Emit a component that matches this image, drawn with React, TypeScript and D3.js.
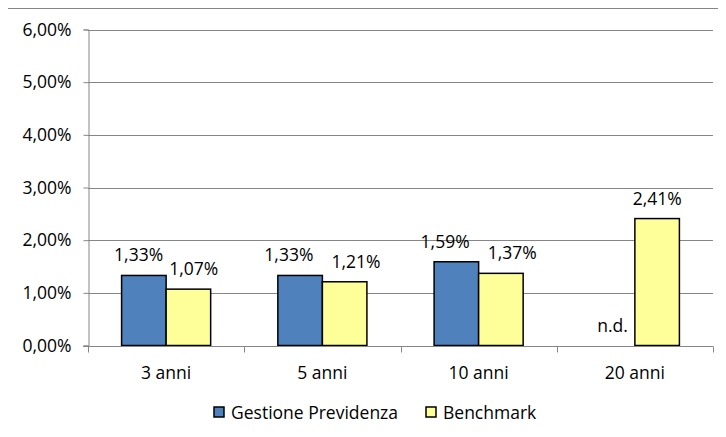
import React, { useEffect, useRef } from 'react'
import * as d3 from 'd3'

const categories = ['3 anni', '5 anni', '10 anni', '20 anni']
const seriesNames = ['Gestione Previdenza', 'Benchmark']
const gestione: (number | null)[] = [1.33, 1.33, 1.59, null]
const benchmark: (number | null)[] = [1.07, 1.21, 1.37, 2.41]
const yTicks = [0, 1, 2, 3, 4, 5, 6]
const colors = ['#4F81BD', '#FFFF99']

const width = 726
const height = 437
const FONT = '"Open Sans", Lato, sans-serif'
const FS = 17.5

const fmt = (v: number) => v.toFixed(2).replace('.', ',') + '%'

const App = () => {
  const svgRef = useRef<SVGSVGElement>(null)

  useEffect(() => {
    const svg = d3.select(svgRef.current)
    svg.selectAll('*').remove()

    // title, cut off at the top like in the source
    const title = svg.append('text').attr('x', 16).attr('y', 7).attr('font-family', FONT).attr('font-size', 17).attr('fill', '#000')
    title.append('tspan').attr('font-weight', 'bold').text('Tavola 5 – Rendimenti medi annui composti ')
    title.append('tspan').attr('font-style', 'italic').text('(valori percentuali)')

    // outer frame
    svg.append('rect').attr('x', 6.5).attr('y', 8.5).attr('width', 730).attr('height', 440)
      .attr('fill', '#fff').attr('stroke', '#868686').attr('stroke-width', 1)

    const left = 88
    const right = 713
    const y = d3.scaleLinear().domain([0, 6]).range([345.5, 29.5])
    const x0 = d3.scaleBand().domain(categories).range([left, right]).paddingInner(0.43).paddingOuter(0.215)
    const x1 = d3.scaleBand().domain(seriesNames).range([0, x0.bandwidth()])

    // gridlines
    svg.append('g').selectAll('line').data(yTicks.slice(1)).enter().append('line')
      .attr('x1', left).attr('x2', right)
      .attr('y1', d => Math.round(y(d)) + 0.5).attr('y2', d => Math.round(y(d)) + 0.5)
      .attr('stroke', '#868686').attr('stroke-width', 1)

    // y axis
    const yAxis = svg.append('g').attr('transform', `translate(${left + 0.5},0)`)
      .call(d3.axisLeft(y).tickValues(yTicks).tickFormat(d => fmt(d as number)).tickSize(5).tickPadding(12))
    yAxis.select('.domain').attr('stroke', '#868686')
    yAxis.selectAll('.tick line').attr('stroke', '#868686')
    yAxis.selectAll('.tick text').attr('font-family', FONT).attr('font-size', FS).attr('fill', '#000')

    // bars
    const rows = categories.map((c, i) => ({ c, vals: [gestione[i], benchmark[i]] }))
    const groups = svg.append('g').selectAll('g').data(rows).enter().append('g')
      .attr('transform', d => `translate(${x0(d.c)},0)`)

    groups.selectAll('rect').data(d => d.vals.map((v, j) => ({ v, j })).filter(e => e.v !== null)).enter().append('rect')
      .attr('x', e => x1(seriesNames[e.j]) as number)
      .attr('y', e => y(e.v as number))
      .attr('width', x1.bandwidth())
      .attr('height', e => y(0) - y(e.v as number))
      .attr('fill', e => colors[e.j])
      .attr('stroke', '#000').attr('stroke-width', 1.5)

    groups.selectAll('text').data(d => d.vals.map((v, j) => ({ v, j }))).enter().append('text')
      .attr('x', e => (x1(seriesNames[e.j]) as number) + x1.bandwidth() / 2)
      .attr('y', e => y(e.v === null ? 0 : e.v) - 14)
      .attr('text-anchor', 'middle')
      .attr('font-family', FONT).attr('font-size', FS).attr('fill', '#000')
      .text(e => (e.v === null ? 'n.d.' : fmt(e.v)))

    // push apart labels that sit at similar heights (like Excel does)
    groups.each(function (d) {
      if (d.vals.some(v => v === null)) return
      const texts = d3.select(this).selectAll<SVGTextElement, any>('text').nodes()
      if (texts.length < 2) return
      const [a, b] = texts
      const wa = a.getComputedTextLength()
      const wb = b.getComputedTextLength()
      const xa = +a.getAttribute('x')!
      const xb = +b.getAttribute('x')!
      const dy = Math.abs(y(d.vals[0] as number) - y(d.vals[1] as number))
      const gap = dy < 13 ? 18 : 6
      const need = xa + wa / 2 + gap - (xb - wb / 2)
      if (need > 0) {
        a.setAttribute('x', String(xa - need / 2))
        b.setAttribute('x', String(xb + need / 2))
      }
    })

    // x axis
    const xAxisG = svg.append('g').attr('transform', `translate(0,${Math.round(y(0)) + 0.5})`)
    xAxisG.append('line').attr('x1', left - 5).attr('x2', right).attr('stroke', '#868686')
    const tickPos = d3.range(categories.length + 1).map(i => left + (i * (right - left)) / categories.length)
    xAxisG.selectAll('line.t').data(tickPos).enter().append('line').attr('class', 't')
      .attr('x1', d => Math.round(d) + 0.5).attr('x2', d => Math.round(d) + 0.5).attr('y1', 0).attr('y2', 6)
      .attr('stroke', '#868686')
    xAxisG.selectAll('text').data(categories).enter().append('text')
      .attr('x', d => (x0(d) as number) + x0.bandwidth() / 2)
      .attr('y', 32)
      .attr('text-anchor', 'middle')
      .attr('font-family', FONT).attr('font-size', FS).attr('fill', '#000')
      .text(d => d)

    // legend
    const legendX = [214, 426]
    const legend = svg.append('g').selectAll('g').data(seriesNames).enter().append('g')
      .attr('transform', (d, i) => `translate(${legendX[i]},407)`)
    legend.append('rect').attr('width', 10).attr('height', 10)
      .attr('fill', (d, i) => colors[i]).attr('stroke', '#000').attr('stroke-width', 1.5)
    legend.append('text').attr('x', 17).attr('y', 11.5)
      .attr('font-family', FONT).attr('font-size', FS).attr('fill', '#000')
      .text(d => d)
  }, [])

  return <svg ref={svgRef} width={width} height={height} style={{ display: 'block' }} />
}

export default function Root() {
  return (
    <div style={{ margin: -8 }}>
      <App />
    </div>
  )
}
